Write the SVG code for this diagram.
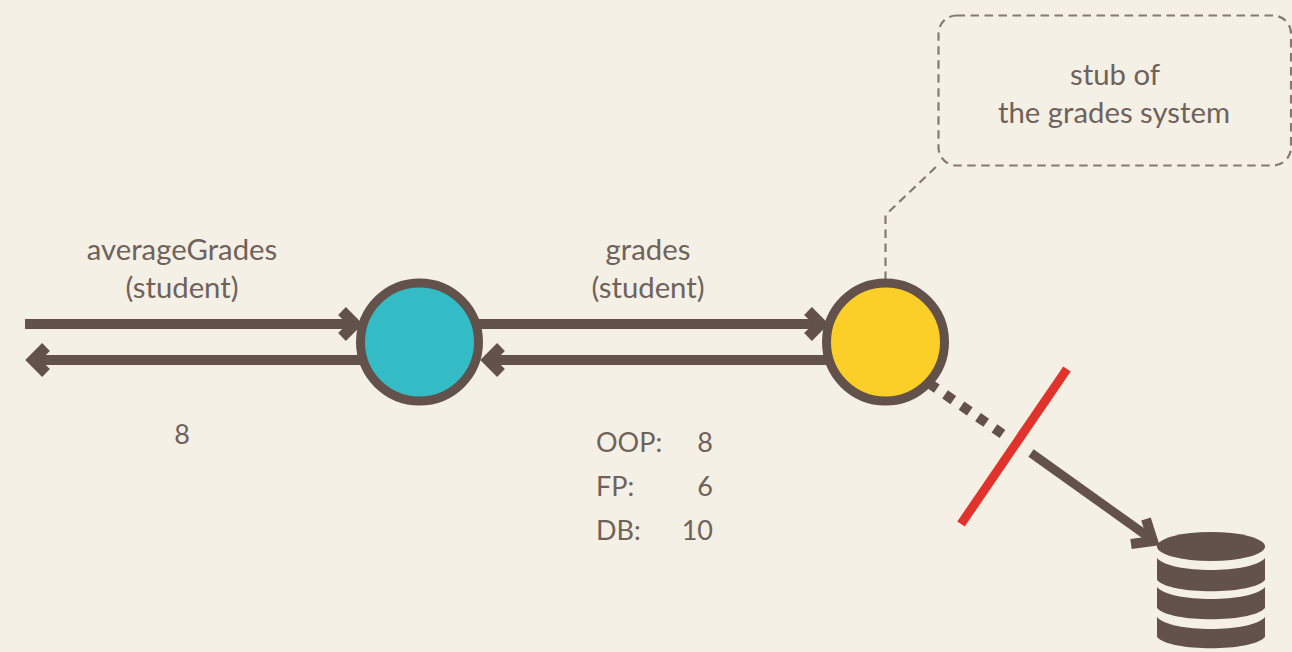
<svg xmlns="http://www.w3.org/2000/svg" width="1292" height="652" viewBox="0 0 1292 652">
<style>
.t{font-family:"Lato","Open Sans","Liberation Sans",sans-serif;font-size:27px;fill:#6f625b}
.w{font-size:29.300px}
.m{text-anchor:middle}
.e{text-anchor:end}
.a{fill:none;stroke:#63524b;stroke-width:10}
.h{fill:none;stroke:#63524b;stroke-width:11}
.d{fill:none;stroke:#857a73;stroke-width:2.200;stroke-dasharray:8.500 5.500}
.n{stroke:#63524b;stroke-width:9}
.db{fill:#63524b}
</style>
<rect width="1292" height="652" fill="#f4f0e6"/>
<g id="connectors">
<path class="a" d="M25 324H350"/><path class="h" d="M342 311L355 324L342 337"/>
<path class="a" d="M360 360H33"/><path class="h" d="M46 347L33 360L46 373"/>
<path class="a" d="M478 324H816"/><path class="h" d="M808 311L821 324L808 337"/>
<path class="a" d="M826 360H492"/><path class="h" d="M501 347L488 360L501 373"/>
<path class="d" d="M885.500 280V215L938 165"/>
<path d="M928.600 383L1002.500 434" fill="none" stroke="#63524b" stroke-width="10" stroke-dasharray="10 10"/>
<path d="M1031 453L1150 538" fill="none" stroke="#63524b" stroke-width="9"/><path d="M1146 519L1153 541L1131 544" fill="none" stroke="#63524b" stroke-width="10"/>
<path d="M1067 369L961 524" fill="none" stroke="#e1322b" stroke-width="9"/>
</g>
<g id="node-teal"><circle class="n" cx="419.500" cy="342" r="59" fill="#33bcc5"/></g>
<g id="node-yellow"><circle class="n" cx="885.500" cy="342" r="59" fill="#fccf28"/></g>
<g id="node-stub">
<rect class="d" x="938.500" y="15.500" width="352.500" height="150" rx="18"/>
<text class="t w m" x="1115" y="84.500">stub of</text>
<text class="t w m" x="1114" y="122.500">the grades system</text>
</g>
<g id="node-db">
<ellipse class="db" cx="1211" cy="546.500" rx="54" ry="14.500"/>
<path class="db" d="M1157 558C1170 574 1252 574 1265 558V580C1252 595 1170 595 1157 580Z"/>
<path class="db" d="M1157 587C1170 603 1252 603 1265 587V608C1252 623 1170 623 1157 608Z"/>
<path class="db" d="M1157 617C1170 633 1252 633 1265 617V637C1252 652 1170 652 1157 637Z"/>
</g>
<g id="labels">
<text class="t w m" x="182" y="259.500">averageGrades</text>
<text class="t w m" x="182" y="297.500">(student)</text>
<text class="t m" x="182" y="444">8</text>
<text class="t w m" x="648" y="259.500">grades</text>
<text class="t w m" x="648" y="297.500">(student)</text>
<text class="t" x="596" y="452">OOP:</text><text class="t e" x="713" y="452">8</text>
<text class="t" x="596" y="496">FP:</text><text class="t e" x="713" y="496">6</text>
<text class="t" x="596" y="540">DB:</text><text class="t e" x="713" y="540">10</text>
</g>
</svg>
